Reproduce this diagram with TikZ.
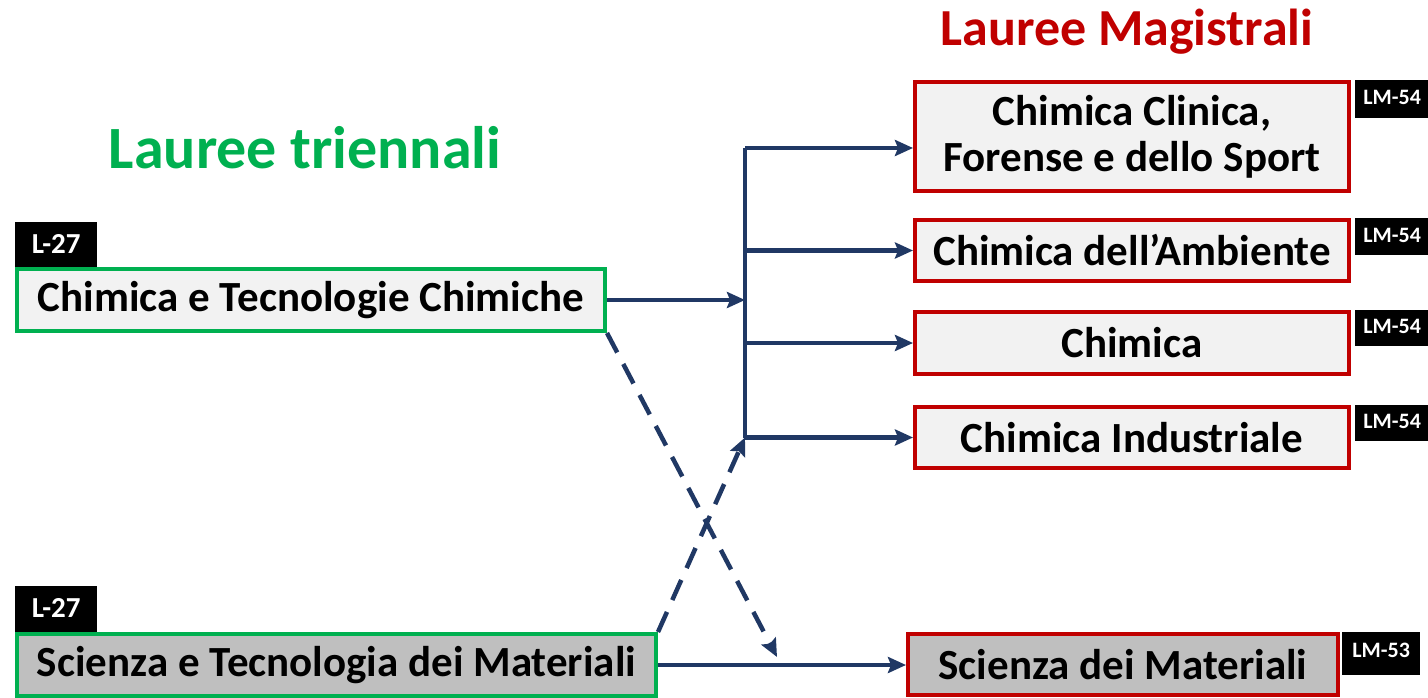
\documentclass[tikz,border=0pt]{standalone}
\usepackage{fontspec}
\setmainfont{Carlito}
\usetikzlibrary{arrows.meta}
\definecolor{navy}{HTML}{203864}
\definecolor{lgreen}{HTML}{00B050}
\definecolor{dred}{HTML}{C00000}
\definecolor{lightfill}{HTML}{F2F2F2}
\definecolor{grayfill}{HTML}{BFBFBF}
\tikzset{
  tribox/.style={draw=lgreen, line width=4pt, fill=lightfill, inner sep=0pt, align=center, font=\fontsize{43}{47}\selectfont\bfseries},
  magbox/.style={draw=dred, line width=4pt, fill=lightfill, inner sep=0pt, align=center, font=\fontsize{43}{46}\selectfont\bfseries},
  tag/.style={fill=black, text=white, inner sep=0pt, font=\fontsize{29}{34}\selectfont\bfseries},
  smalltag/.style={fill=black, text=white, inner sep=0pt, font=\fontsize{22}{26}\selectfont\bfseries},
  conn/.style={draw=navy, line width=4.5pt, -{Stealth[length=18pt,width=16pt,inset=3pt]}},
  line/.style={draw=navy, line width=4.5pt},
  dconn/.style={conn, dash pattern=on 22pt off 13pt}
}
\begin{document}
\begin{tikzpicture}[x=1pt,y=-1pt]
\useasboundingbox[fill=white] (0,0) rectangle (1428,698);
% titles
\node (t1) [text=lgreen, font=\fontsize{60}{66}\selectfont\bfseries] at (305,148) {Lauree triennali};
\node (t2) [text=dred, font=\fontsize{52}{58}\selectfont\bfseries] at (1127,32) {Lauree Magistrali};
% left boxes
\node (b1) [tribox, minimum width=588pt, minimum height=62pt] at (311,300) {\raisebox{-3pt}{Chimica e Tecnologie Chimiche}};
\node (b2) [tribox, fill=grayfill, minimum width=639pt, minimum height=62pt] at (336.5,665) {\raisebox{-3pt}{Scienza e Tecnologia dei Materiali}};
\node (l1) [tag, minimum width=82pt, minimum height=45pt, anchor=north west] at (15,222) {\raisebox{2pt}{L-27}};
\node (l2) [tag, minimum width=82pt, minimum height=46pt, anchor=north west] at (15,586) {\raisebox{2pt}{L-27}};
% right boxes
\node (mA) [magbox, minimum width=434pt, minimum height=109pt] at (1132,136.5) {Chimica Clinica,\\Forense e dello Sport};
\node (mB) [magbox, minimum width=434pt, minimum height=61pt] at (1132,250.5) {\raisebox{-2pt}{Chimica dell’Ambiente}};
\node (mC) [magbox, minimum width=434pt, minimum height=62pt] at (1132,343) {\raisebox{-2pt}{Chimica}};
\node (mD) [magbox, minimum width=434pt, minimum height=61pt] at (1132,437.5) {\raisebox{-2pt}{Chimica Industriale}};
\node (mE) [magbox, fill=grayfill, minimum width=430pt, minimum height=61pt] at (1123,664.5) {\raisebox{-2pt}{Scienza dei Materiali}};
\node (gA) [smalltag, minimum width=76pt, minimum height=38pt, anchor=north west] at (1355,80) {\raisebox{3pt}{\hspace*{-2pt}LM-54}};
\node (gB) [smalltag, minimum width=76pt, minimum height=37pt, anchor=north west] at (1355,218) {\raisebox{3pt}{\hspace*{-2pt}LM-54}};
\node (gC) [smalltag, minimum width=76pt, minimum height=36pt, anchor=north west] at (1355,310) {\raisebox{3pt}{\hspace*{-2pt}LM-54}};
\node (gD) [smalltag, minimum width=76pt, minimum height=36pt, anchor=north west] at (1355,405) {\raisebox{3pt}{\hspace*{-2pt}LM-54}};
\node (gE) [smalltag, minimum width=78pt, minimum height=43pt, anchor=north west] at (1342,632) {\raisebox{6pt}{LM-53}};
% bus
\coordinate (busTop) at (745,148);
\coordinate (busIn) at (745,300);
\coordinate (busB) at (745,250.5);
\coordinate (busC) at (745,343);
\coordinate (busBot) at (745,437.5);
\coordinate (dEnd) at (777,657);
\draw[line] (busTop) -- (busBot);
\draw[conn] (b1.east) -- (busIn);
\draw[conn] (busTop) -- (mA.west |- busTop);
\draw[conn] (busB) -- (mB.west);
\draw[conn] (busC) -- (mC.west);
\draw[conn] (busBot) -- (mD.west);
\draw[conn] (b2.east) -- (mE.west |- b2.east);
\draw[dconn] (b1.south east) -- (dEnd);
\draw[dconn] (b2.north east) -- (busBot);
\end{tikzpicture}
\end{document}
